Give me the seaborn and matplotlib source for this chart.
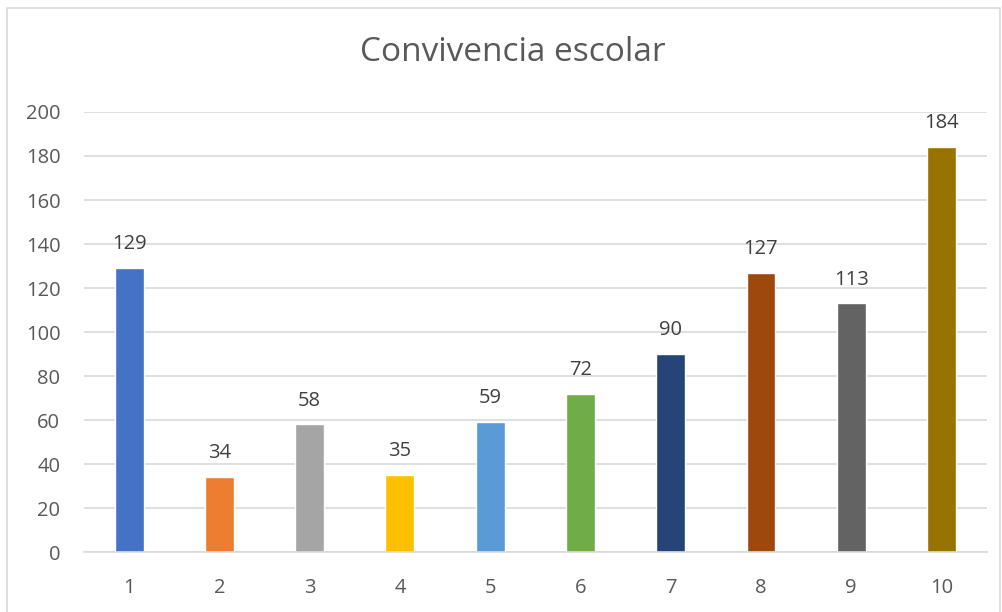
import matplotlib
matplotlib.use("Agg")
import matplotlib.pyplot as plt
import seaborn as sns
import pandas as pd
from matplotlib.patches import Rectangle

categories = ["1", "2", "3", "4", "5", "6", "7", "8", "9", "10"]
values = [129, 34, 58, 35, 59, 72, 90, 127, 113, 184]
colors = ["#4472C4", "#ED7D31", "#A5A5A5", "#FFC000", "#5B9BD5",
          "#70AD47", "#264478", "#9E480E", "#636363", "#997300"]
yticks = [0, 20, 40, 60, 80, 100, 120, 140, 160, 180, 200]
title = "Convivencia escolar"

sns.set_theme(style="white")
plt.rcParams['font.family'] = ['Open Sans', 'DejaVu Sans']

df = pd.DataFrame({"cat": categories, "val": values})

fig = plt.figure(figsize=(10.03, 6.12), dpi=100)
ax = fig.add_axes([0.0837, 0.098, 0.9, 0.719])

sns.barplot(data=df, x="cat", y="val", hue="cat", palette=colors,
            width=0.32, legend=False, ax=ax, saturation=1)

ax.set_ylim(0, 200)
ax.set_yticks(yticks)
ax.set_xlim(-0.5, len(categories) - 0.5)
ax.grid(axis="y", color="#D9D9D9", linewidth=1.2)
ax.set_axisbelow(True)
for s in ["top", "right", "left"]:
    ax.spines[s].set_visible(False)
ax.spines["bottom"].set_color("#D9D9D9")
ax.spines["bottom"].set_linewidth(1.2)
ax.set_xlabel("")
ax.set_ylabel("")
ax.tick_params(axis="both", colors="#595959", labelsize=14.5, length=0)
ax.tick_params(axis="y", pad=17)
ax.tick_params(axis="x", pad=19)

for i, v in enumerate(values):
    ax.annotate(str(v), (i, v), xytext=(0, 10), textcoords="offset points",
                ha="center", va="bottom", fontsize=14.5, color="#404040")

fig.text(0.511, 0.915, title, ha="center", va="center", fontsize=24, color="#595959")

fig.patches.append(Rectangle((0.007, -0.01), 0.99, 0.997, transform=fig.transFigure,
                             fill=False, edgecolor="#D9D9D9", linewidth=1.2))

fig.savefig("out.png", dpi=100)
